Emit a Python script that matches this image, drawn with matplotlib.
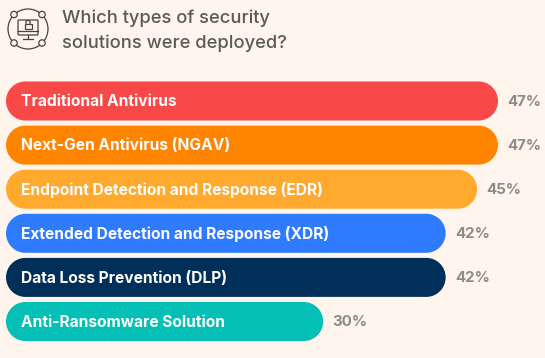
import matplotlib
matplotlib.use('Agg')
import matplotlib.pyplot as plt
from matplotlib.patches import Circle, FancyBboxPatch, PathPatch, Rectangle
from matplotlib.path import Path

# Values
categories = [
    'Traditional Antivirus',
    'Next-Gen Antivirus (NGAV)',
    'Endpoint Detection and Response (EDR)',
    'Extended Detection and Response (XDR)',
    'Data Loss Prevention (DLP)',
    'Anti-Ransomware Solution',
]
values = [47, 47, 45, 42, 42, 30]
bar_lengths = [47, 47, 45, 42, 42, 30.3]  # drawn length, the labels are rounded
bar_colors = ['#F94848', '#FF8500', '#FFA92E', '#2F7BFF', '#00305A', '#04BFB5']
title_lines = ['Which types of security', 'solutions were deployed?']

W, H = 545, 358
BG = '#FFF5EC'
GREY = '#8B8B85'
TITLE_GREY = '#5A5A55'
ICON = '#45453F'
FONT = 'Inter'

PX_X = (498 - 6) / 47   # pixels per percent
PX_Y = 44.1             # pixels per row
BAR_H = 39 / PX_Y
RAD = 19.3
KAPPA = 0.5523


def pill(length, yc):
    """Round-ended bar from x=0 to x=length, with true circular corners on screen."""
    rx = RAD / PX_X
    ry = BAR_H / 2
    kx = rx * (1 - KAPPA)
    ky = ry * (1 - KAPPA)
    t, b = yc - ry, yc + ry
    verts = [
        (rx, t), (length - rx, t),
        (length - kx, t), (length, t + ky), (length, yc),
        (length, b - ky), (length - kx, b), (length - rx, b),
        (rx, b),
        (kx, b), (0, b - ky), (0, yc),
        (0, t + ky), (kx, t), (rx, t),
        (rx, t),
    ]
    codes = [Path.MOVETO, Path.LINETO] + [Path.CURVE4] * 6 + [Path.LINETO] + [Path.CURVE4] * 6 + [Path.CLOSEPOLY]
    return Path(verts, codes)


fig = plt.figure(figsize=(W / 100, H / 100), dpi=100, facecolor=BG)

# ============================================================
# Bars
# ============================================================
x0 = 6 / W
x1 = (6 + PX_X * 56) / W
y_top = 101 - PX_Y / 2
y_bot = y_top + PX_Y * 6
ax = fig.add_axes([x0, 1 - y_bot / H, x1 - x0, (y_bot - y_top) / H])
ax.set_xlim(0, 56)
ax.set_ylim(5.5, -0.5)
ax.axis('off')

for i, (name, val, length, col) in enumerate(zip(categories, values, bar_lengths, bar_colors)):
    ax.add_patch(PathPatch(pill(length, i), fc=col, ec='none'))
    ax.text(15 / PX_X, i + 0.02, name, color='white', fontsize=11.2, fontweight='bold',
            family=FONT, va='center', ha='left')
    ax.text(length + 0.9, i + 0.02, f'{val}%', color=GREY, fontsize=10.8, fontweight='bold',
            family=FONT, va='center', ha='left')

# ============================================================
# Title + icon, in pixel coordinates
# ============================================================
top = fig.add_axes([0, 0, 1, 1])
top.set_xlim(0, W)
top.set_ylim(H, 0)
top.axis('off')
top.patch.set_alpha(0)

top.text(62, 18, title_lines[0], color=TITLE_GREY, fontsize=13.2, fontweight='medium',
         family=FONT, va='center', ha='left')
top.text(62, 43, title_lines[1], color=TITLE_GREY, fontsize=13.2, fontweight='medium',
         family=FONT, va='center', ha='left')

lw = 0.9
top.add_patch(Circle((28, 29), 20, fc='none', ec=ICON, lw=lw))
for cx, cy in [(14, 14.5), (42, 14.5), (14, 43), (42, 43)]:
    top.add_patch(Circle((cx, cy), 3.2, fc=BG, ec=ICON, lw=lw))
top.add_patch(FancyBboxPatch((18, 20), 20, 15, boxstyle='round,pad=0,rounding_size=1',
                             fc='none', ec=ICON, lw=lw))
top.plot([18, 38], [31, 31], color=ICON, lw=lw)
top.plot([28, 28], [35, 38], color=ICON, lw=lw)
top.plot([23, 33], [38.5, 38.5], color=ICON, lw=lw)
top.add_patch(Rectangle((24.5, 23.5), 7, 5.5, fc='none', ec=ICON, lw=lw))
top.plot([26, 26, 27, 29, 30, 30], [23.5, 21.5, 20.5, 20.5, 21.5, 23.5], color=ICON, lw=lw)

fig.savefig('out.png', dpi=100, facecolor=BG)
